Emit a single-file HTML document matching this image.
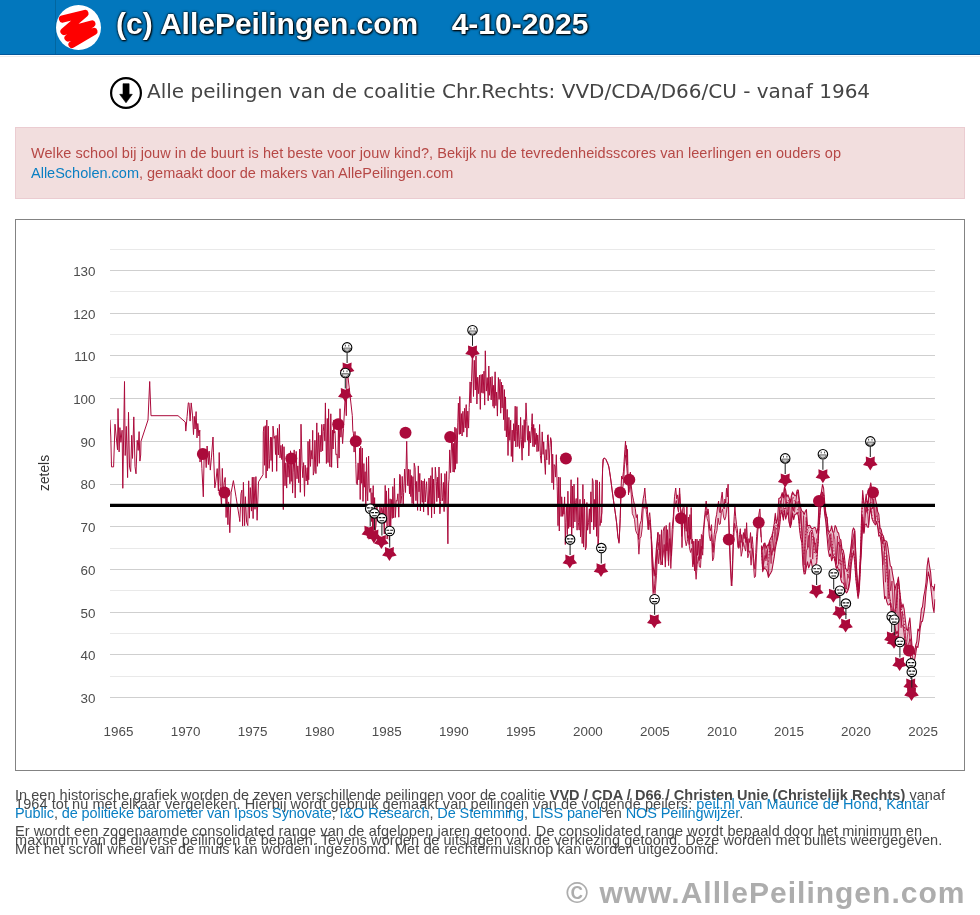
<!DOCTYPE html>
<html lang="nl">
<head>
<meta charset="utf-8">
<title>Alle peilingen van de coalitie Chr.Rechts: VVD/CDA/D66/CU - vanaf 1964</title>
<style>
*{box-sizing:border-box}
html,body{margin:0;padding:0;background:#fff}
body{width:980px;height:915px;overflow:hidden;position:relative;font-family:"Liberation Sans","DejaVu Sans",sans-serif;color:#555}
#hdr{position:absolute;left:0;top:0;width:980px;height:55px;background:#0277bd;border-bottom:1px solid #01579b}
#hl{position:absolute;left:0;top:56px;width:980px;height:1px;background:#ededed}
#hdr .vl{position:absolute;left:55px;top:0;width:1px;height:54px;background:#02669f}
#hdr svg{position:absolute;left:56px;top:5px}
#hdr .t{position:absolute;left:116px;top:6.8px;font:bold 30px/34px "Liberation Sans",sans-serif;color:#fff;white-space:pre;text-shadow:1px 1px 2px #000,0 0 2px #000,0 0 3px rgba(0,0,0,.7)}
#ttl{position:absolute;left:147.4px;top:73.8px;height:34px;white-space:nowrap;font:20px/34px "DejaVu Sans","Liberation Sans",sans-serif;color:#444}
#ttl svg{position:absolute;left:-38.4px;top:2.1px}
#alert{position:absolute;left:15px;top:127px;width:950px;height:72px;background:#f2dede;border:1px solid #ebccd1;padding:15px;font:14.5px/20px "Liberation Sans","DejaVu Sans",sans-serif;color:#b64846}
.ln{display:block;white-space:nowrap}
a{color:#0a7fc3;text-decoration:none}
#chart{position:absolute;left:15px;top:219px;width:950px;height:552px;border:1px solid #838383;background:#fff}
#chart svg{position:absolute;left:-1px;top:-1px}
#txt{position:absolute;left:15px;top:791px;width:950px;font:14.5px/9px "Liberation Sans","DejaVu Sans",sans-serif;color:#484848}
#txt p{margin:0 0 9px 0}
#wm{position:absolute;right:14.2px;top:874.7px;font:bold 30px/36px "Liberation Sans",sans-serif;color:#adadad;letter-spacing:1px;word-spacing:1px;white-space:nowrap}
#ttl,#alert,#txt,#hdr .t,#wm,#cs{will-change:transform}
</style>
</head>
<body>
<div id="hdr"><div class="vl"></div>
<svg width="46" height="46" viewBox="0 0 46 46"><circle cx="22.5" cy="22.5" r="22.5" fill="#fff"/><polyline points="6.5,14 29,8.5 8,26.5 36,19 12,33 38,26.5 16,39.5" fill="none" stroke="#fe0000" stroke-width="7.2" stroke-linecap="round" stroke-linejoin="round"/></svg>
<div class="t">(c) AllePeilingen.com    4-10-2025</div></div>
<div id="hl"></div>
<div id="ttl"><svg width="34" height="34" viewBox="0 0 34 34"><circle cx="17" cy="17" r="14.9" fill="#fff" stroke="#000" stroke-width="2.2"/><path d="M14 7.700h6.100v10.600h3.200L17 26.800 10.700 18.300H14z" fill="#000" stroke="#000" stroke-width="0.600" stroke-linejoin="round"/></svg>Alle peilingen van de coalitie Chr.Rechts: VVD/CDA/D66/CU - vanaf 1964</div>
<div id="alert"><span class="ln" style="letter-spacing:.067px">Welke school bij jouw in de buurt is het beste voor jouw kind?, Bekijk nu de tevredenheidsscores van leerlingen en ouders op</span><span class="ln"><a>AlleScholen.com</a>, gemaakt door de makers van AllePeilingen.com</span></div>
<div id="chart">

</div>
<div id="txt"><p><span class="ln" style="letter-spacing:.032px">In een historische grafiek worden de zeven verschillende peilingen voor de coalitie <b>VVD / CDA / D66 / Christen Unie (Christelijk Rechts)</b> vanaf</span>
<span class="ln" style="letter-spacing:.072px">1964 tot nu met elkaar vergeleken. Hierbij wordt gebruik gemaakt van peilingen van de volgende peilers: <a>peil.nl van Maurice de Hond</a>, <a>Kantar</a></span>
<span class="ln" style="letter-spacing:-.1px"><a>Public</a>, <a>de politieke barometer van Ipsos Synovate</a>, <a>I&amp;O Research</a>, <a>De Stemming</a>, <a>LISS panel</a> en <a>NOS Peilingwijzer</a>.</span></p>
<p><span class="ln" style="letter-spacing:.108px">Er wordt een zogenaamde consolidated range van de afgelopen jaren getoond. De consolidated range wordt bepaald door het minimum en</span>
<span class="ln" style="letter-spacing:.064px">maximum van de diverse peilingen te bepalen. Tevens worden de uitslagen van de verkiezing getoond. Deze worden met bullets weergegeven.</span>
<span class="ln" style="letter-spacing:.137px">Met het scroll wheel van de muis kan worden ingezoomd. Met de rechtermuisknop kan worden uitgezoomd.</span></p></div>
<div id="wm">© www.AlllePeilingen.com</div>
<svg id="cs" width="980" height="915" viewBox="0 0 980 915" style="position:absolute;left:0;top:0;font-family:'Liberation Sans',sans-serif">
<path d="M110 676.5H935M110 633.5H935M110 590.5H935M110 548.5H935M110 505.5H935M110 462.5H935M110 419.5H935M110 377.5H935M110 334.5H935M110 291.5H935M110 249.5H935" stroke="#e9e9e9" stroke-width="1" fill="none"/>
<path d="M110 697.5H935M110 654.5H935M110 612.5H935M110 569.5H935M110 526.5H935M110 484.5H935M110 441.5H935M110 398.5H935M110 355.5H935M110 313.5H935M110 270.5H935" stroke="#cfcfcf" stroke-width="1" fill="none"/>
<g font-size="13.4" fill="#4d4d4d" text-anchor="end">
<text x="95.5" y="702.9">30</text>
<text x="95.5" y="660.2">40</text>
<text x="95.5" y="617.5">50</text>
<text x="95.5" y="574.8">60</text>
<text x="95.5" y="532.1">70</text>
<text x="95.5" y="489.4">80</text>
<text x="95.5" y="446.7">90</text>
<text x="95.5" y="404.0">100</text>
<text x="95.5" y="361.3">110</text>
<text x="95.5" y="318.6">120</text>
<text x="95.5" y="275.9">130</text>
</g>
<g font-size="13.4" fill="#4d4d4d" text-anchor="middle">
<text x="118.5" y="735.7">1965</text>
<text x="185.6" y="735.7">1970</text>
<text x="252.6" y="735.7">1975</text>
<text x="319.6" y="735.7">1980</text>
<text x="386.7" y="735.7">1985</text>
<text x="453.8" y="735.7">1990</text>
<text x="520.8" y="735.7">1995</text>
<text x="587.9" y="735.7">2000</text>
<text x="654.9" y="735.7">2005</text>
<text x="722.0" y="735.7">2010</text>
<text x="789.0" y="735.7">2015</text>
<text x="856.0" y="735.7">2020</text>
<text x="923.1" y="735.7">2025</text>
</g>
<text transform="translate(48.7,473) rotate(-90)" font-size="13.8" fill="#333" text-anchor="middle">zetels</text>
<clipPath id="pc"><rect x="110" y="230" width="825.5" height="490"/></clipPath>
<g clip-path="url(#pc)" fill="none" stroke-linejoin="round">
<path d="M761.5 545.5L762.7 549.5L763.8 543.8L765.0 543.0L766.1 548.5L767.3 545.0L768.4 545.5L769.6 540.8L770.7 538.3L771.9 535.9L773.0 531.0L774.2 523.4L775.3 513.2L776.5 523.3L777.6 518.5L778.8 498.6L779.9 498.1L781.1 496.5L782.2 492.6L783.4 497.4L784.5 486.8L785.7 490.1L786.8 496.9L788.0 494.8L789.1 498.0L790.3 502.3L791.4 495.6L792.6 491.9L793.7 493.9L794.9 495.7L796.0 495.7L797.2 490.1L798.3 490.1L799.5 500.9L800.6 507.1L801.8 511.1L802.9 511.5L804.1 514.5L805.2 511.6L806.4 509.6L807.5 526.0L808.7 525.4L809.8 525.3L811.0 527.6L812.1 528.8L813.3 528.2L814.4 527.4L815.6 528.0L816.7 533.2L817.9 527.7L819.0 505.1L820.2 496.0L821.3 492.5L822.5 484.5L823.6 488.2L824.8 503.7L825.9 513.6L827.1 518.1L828.2 531.3L829.4 531.2L830.5 530.6L831.7 525.9L832.8 532.2L834.0 532.2L835.1 525.5L836.3 527.6L837.4 531.8L838.6 533.2L839.7 539.0L840.9 539.9L842.0 549.1L843.2 550.2L844.3 555.4L845.5 568.0L846.6 570.0L847.8 570.7L848.9 560.5L850.1 554.2L851.2 545.6L852.4 531.0L853.5 527.9L854.7 530.0L855.8 552.5L857.0 576.3L858.1 590.1L859.3 577.8L860.4 553.2L861.6 515.9L862.7 490.5L863.9 504.3L865.0 504.1L866.2 494.0L867.3 505.2L868.5 499.3L869.6 488.6L870.8 482.9L871.9 491.2L873.1 494.1L874.2 496.3L875.4 498.5L876.5 504.1L877.7 511.6L878.8 514.1L880.0 527.8L881.1 529.4L882.3 534.6L883.4 536.0L884.6 541.0L885.7 540.7L886.9 541.9L888.0 547.7L889.2 557.0L890.3 565.9L891.5 566.9L892.6 574.1L893.8 580.8L894.9 590.1L896.1 584.6L897.2 583.0L898.4 577.1L899.5 588.8L900.7 599.8L901.8 608.3L903.0 604.0L904.1 608.8L905.3 619.5L906.4 629.1L907.6 630.5L908.7 623.6L909.9 617.9L911.0 632.5L912.2 648.2L913.3 649.4L914.5 654.5L915.6 645.5L916.8 641.6L917.9 629.1L919.1 631.0L920.2 621.2L921.4 609.0L922.5 606.7L923.7 596.5L924.8 591.0L926.0 582.5L927.1 566.4L928.3 557.8L929.4 565.6L930.6 572.1L931.7 586.3L932.9 586.4L934.0 590.7L934.9 583.9L934.9 599.2L934.0 612.5L932.9 606.8L931.7 595.2L930.6 585.8L929.4 576.7L928.3 571.9L927.1 583.1L926.0 591.1L924.8 607.0L923.7 614.4L922.5 621.2L921.4 621.8L920.2 628.1L919.1 640.0L917.9 647.4L916.8 646.4L915.6 654.3L914.5 660.4L913.3 664.7L912.2 663.2L911.0 660.5L909.9 653.2L908.7 650.9L907.6 649.0L906.4 651.0L905.3 649.1L904.1 640.2L903.0 640.3L901.8 644.7L900.7 642.7L899.5 639.4L898.4 636.2L897.2 631.1L896.1 634.3L894.9 625.6L893.8 622.1L892.6 617.1L891.5 614.6L890.3 603.0L889.2 604.7L888.0 604.9L886.9 602.1L885.7 596.6L884.6 598.8L883.4 581.4L882.3 558.0L881.1 542.3L880.0 535.1L878.8 536.2L877.7 526.6L876.5 521.8L875.4 524.9L874.2 523.2L873.1 521.4L871.9 518.4L870.8 507.6L869.6 514.9L868.5 527.2L867.3 527.0L866.2 523.9L865.0 524.6L863.9 533.4L862.7 523.7L861.6 547.1L860.4 567.6L859.3 590.9L858.1 598.4L857.0 589.4L855.8 578.2L854.7 562.3L853.5 551.6L852.4 556.8L851.2 565.0L850.1 579.9L848.9 587.5L847.8 590.7L846.6 592.9L845.5 591.6L844.3 585.6L843.2 582.9L842.0 582.8L840.9 579.7L839.7 569.3L838.6 570.3L837.4 566.5L836.3 568.5L835.1 562.0L834.0 557.3L832.8 557.2L831.7 560.8L830.5 554.1L829.4 556.4L828.2 549.9L827.1 537.3L825.9 522.1L824.8 515.4L823.6 502.8L822.5 501.3L821.3 504.5L820.2 511.5L819.0 526.2L817.9 545.4L816.7 563.0L815.6 564.1L814.4 571.6L813.3 569.4L812.1 566.1L811.0 559.4L809.8 565.0L808.7 567.9L807.5 561.8L806.4 566.8L805.2 573.8L804.1 573.9L802.9 565.1L801.8 542.5L800.6 537.7L799.5 528.9L798.3 515.9L797.2 512.4L796.0 514.2L794.9 514.3L793.7 519.6L792.6 512.8L791.4 523.6L790.3 527.5L789.1 522.3L788.0 512.4L786.8 514.8L785.7 519.1L784.5 509.9L783.4 520.1L782.2 513.4L781.1 511.3L779.9 523.7L778.8 532.0L777.6 538.3L776.5 542.7L775.3 548.9L774.2 557.2L773.0 564.2L771.9 570.7L770.7 573.1L769.6 574.7L768.4 577.4L767.3 572.0L766.1 569.4L765.0 568.8L763.8 567.4L762.7 571.7L761.5 546.8Z" fill="#ab0a3b" fill-opacity="0.25" stroke="none"/>
<path d="M601.5 512.7L602.6 468.4L603.7 458.6L604.8 458.3L605.9 459.5L607.0 461.8L608.1 464.5L609.2 469.0L610.3 476.2L611.4 484.3L612.5 493.2L613.6 501.1L614.7 508.9L615.8 516.6L616.9 525.5L618.0 537.4L619.1 541.5L620.2 518.1L621.3 481.8L622.4 478.6L623.5 471.4L624.6 454.1L625.7 446.6L626.8 456.0L627.9 472.6L629.0 483.8L630.1 474.0L631.2 484.9L632.3 494.2L633.4 500.0L634.5 505.0L635.6 511.1L636.7 516.5L637.8 523.5L638.9 536.6L640.0 524.1L641.1 521.0L642.2 509.0L643.3 498.4L644.4 491.3L645.5 497.9L646.6 508.5L647.7 516.0L648.8 518.5L649.9 515.1L651.0 531.5L652.1 556.4L653.2 586.9L654.3 589.7L655.4 576.0L656.5 558.0L657.6 538.3L658.7 546.1L659.8 535.2L660.9 550.0L662.0 550.7L663.1 535.1L664.2 527.2L665.3 552.6L666.4 532.3L667.5 530.0L668.6 552.4L669.7 522.8L670.8 551.6L671.9 537.7L673.0 520.0L674.1 503.5L675.2 491.5L676.3 494.8L677.4 495.9L678.5 503.5L679.6 488.2L680.7 509.1L681.8 530.9L682.9 508.3L684.0 507.3L685.1 521.3L686.2 530.7L687.3 530.1L688.4 517.6L689.5 531.8L690.6 533.3L691.7 532.2L692.8 548.8L693.9 544.1L695.0 552.8L696.1 568.7L697.2 546.0L698.3 542.4L699.4 557.7L700.5 550.6L701.6 534.8L702.7 548.3L703.8 525.3L704.9 514.2L706.0 503.2L707.1 513.4L708.2 510.5L709.3 524.1L710.4 530.4L711.5 524.9L712.6 546.1L713.7 541.6L714.8 529.2L715.9 517.8L717.0 512.0L718.1 504.1L719.2 508.4L720.3 511.3L721.4 497.4L722.5 495.9L723.6 505.8L724.7 501.7L725.8 501.0L726.9 492.9L728.0 485.1L729.1 522.5L730.2 554.3L731.3 577.7L732.4 566.3L733.5 530.0L734.6 511.3L735.7 516.4L736.8 526.1L737.9 537.6L739.0 542.3L740.1 529.9L741.2 541.0L742.3 541.7L743.4 532.7L744.5 534.7L745.6 539.6L746.7 525.7L747.8 546.6L748.9 538.8L750.0 538.8L751.1 544.9L752.2 537.9L753.3 552.4L754.4 566.0L755.5 558.9L756.6 536.5L757.7 523.8L758.8 515.5L759.9 509.1L761.0 531.0L761.0 537.3L759.9 521.7L758.8 521.5L757.7 533.1L756.6 553.3L755.5 576.6L754.4 577.6L753.3 562.0L752.2 547.9L751.1 565.2L750.0 550.7L748.9 553.4L747.8 557.8L746.7 537.4L745.6 551.1L744.5 547.4L743.4 542.5L742.3 551.1L741.2 556.3L740.1 540.6L739.0 548.4L737.9 547.6L736.8 533.2L735.7 528.5L734.6 523.3L733.5 542.3L732.4 575.8L731.3 585.6L730.2 564.5L729.1 538.2L728.0 502.7L726.9 508.2L725.8 516.9L724.7 520.1L723.6 517.0L722.5 509.1L721.4 512.6L720.3 523.9L719.2 524.5L718.1 518.1L717.0 530.4L715.9 534.1L714.8 542.7L713.7 557.9L712.6 560.9L711.5 534.4L710.4 541.0L709.3 536.1L708.2 522.1L707.1 518.6L706.0 511.1L704.9 518.0L703.8 530.0L702.7 555.2L701.6 546.2L700.5 567.5L699.4 566.9L698.3 556.5L697.2 564.8L696.1 579.3L695.0 564.8L693.9 556.3L692.8 566.9L691.7 548.3L690.6 552.5L689.5 548.2L688.4 535.5L687.3 541.5L686.2 545.8L685.1 539.1L684.0 522.1L682.9 515.7L681.8 536.5L680.7 514.7L679.6 493.9L678.5 512.2L677.4 507.0L676.3 500.5L675.2 505.5L674.1 509.4L673.0 529.6L671.9 549.1L670.8 568.5L669.7 538.6L668.6 565.6L667.5 542.6L666.4 543.1L665.3 567.1L664.2 544.5L663.1 555.1L662.0 561.1L660.9 565.0L659.8 549.3L658.7 563.8L657.6 549.6L656.5 575.2L655.4 590.3L654.3 602.9L653.2 597.7L652.1 567.4L651.0 533.7L649.9 519.9L648.8 529.8L647.7 523.2L646.6 514.2L645.5 505.5L644.4 508.3L643.3 506.4L642.2 527.9L641.1 536.7L640.0 538.4L638.9 554.2L637.8 535.1L636.7 533.1L635.6 530.3L634.5 519.4L633.4 516.1L632.3 513.7L631.2 494.1L630.1 482.5L629.0 492.5L627.9 481.8L626.8 468.1L625.7 455.1L624.6 464.4L623.5 483.5L622.4 489.4L621.3 487.6L620.2 518.1L619.1 541.5L618.0 537.4L616.9 525.5L615.8 516.6L614.7 508.9L613.6 501.1L612.5 493.2L611.4 484.3L610.3 476.2L609.2 469.0L608.1 464.5L607.0 461.8L605.9 459.5L604.8 458.3L603.7 458.6L602.6 468.4L601.5 522.9Z" fill="#ab0a3b" fill-opacity="0.25" stroke="none"/>
<path d="M651.3 536.4L651.9 548.2L652.7 575.9L653.4 591.7L654.0 592.7L654.8 583.8L656.0 568.0L657.0 548.2L658.0 532.4L658.0 532.4L656.4 548.2L655.2 566.0L654.2 575.9L653.4 568.0L652.5 556.2L651.3 536.4Z" fill="#ab0a3b" fill-opacity="0.25" stroke="none"/>
<path d="M110.0 420.0L110.8 437.0L111.5 466.9L113.6 466.9L115.0 424.2L117.5 449.8L118.0 408.5L119.1 451.9L119.9 427.6L120.9 442.3L122.1 430.2L122.8 488.3L124.5 381.5L125.2 455.5L126.3 426.4L127.6 477.6L128.5 412.3L129.5 467.1L130.7 471.6L131.7 435.3L132.5 458.4L133.8 416.9L135.0 466.6L136.0 473.8L137.2 440.3L138.2 450.4L139.1 431.6L139.9 461.1L140.7 455.0L141.0 441.3L148.0 420.0L149.7 381.5L151.0 415.7L178.0 415.7L185.3 422.1L185.8 431.1L187.1 416.4L188.3 402.9L189.0 402.9L190.1 421.1L191.2 402.9L192.5 415.1L193.5 434.6L194.3 416.4L195.1 429.0L196.1 411.6L197.0 437.9L197.8 423.5L198.9 436.0L199.8 430.1L200.0 462.0L201.0 448.8L201.9 468.4L203.3 496.8L204.1 458.1L205.3 451.2L206.2 467.6L207.1 446.0L208.4 464.6L209.2 451.1L210.3 470.1L211.4 457.9L213.0 437.0L213.5 452.9L214.8 487.9L215.9 481.0L217.2 468.6L218.4 491.0L219.2 452.5L220.3 486.6L221.5 506.7L222.3 468.4L223.1 494.2L224.2 482.8L225.2 477.5L226.1 517.5L226.9 490.6L227.9 524.7L228.6 501.9L229.8 532.7L231.1 492.7L233.4 480.6L236.0 496.8L239.4 518.2L239.8 521.6L241.0 493.5L241.9 490.1L242.6 526.1L243.4 482.3L244.6 525.7L245.4 496.7L246.6 522.2L247.8 525.6L248.7 480.8L249.4 518.2L250.3 487.6L251.5 511.1L252.3 477.2L253.1 518.6L253.9 477.1L255.0 509.3L255.9 476.6L257.1 520.3L258.5 481.9L263.0 474.6L263.3 431.8L264.0 426.6L264.6 465.3L265.3 425.7L266.1 478.1L266.8 420.0L267.4 470.8L268.3 426.2L269.1 468.4L269.8 458.2L270.5 437.0L271.1 460.5L271.7 437.3L272.4 471.6L273.0 426.1L274.1 438.4L274.8 436.3L275.5 454.5L276.1 435.4L276.7 471.3L277.5 428.4L278.4 455.0L279.4 424.4L280.0 457.9L280.9 445.4L281.7 459.5L282.5 444.4L283.3 509.6L284.0 446.7L285.0 485.7L285.8 462.8L286.7 488.1L287.3 460.2L288.0 477.2L289.0 455.6L289.9 483.8L290.5 450.8L291.2 481.4L291.9 460.9L292.6 493.1L293.2 472.1L294.2 449.9L295.2 497.9L296.2 451.4L297.0 478.8L297.8 465.9L298.8 482.8L299.6 449.2L300.3 492.3L301.0 424.2L302.1 465.3L302.8 477.7L303.6 462.6L304.5 496.3L305.2 465.2L306.2 481.0L307.2 467.6L307.8 484.9L308.0 441.4L308.7 479.8L309.7 439.3L310.5 466.4L311.1 450.4L312.1 459.1L312.7 430.3L313.3 475.1L314.2 471.3L314.9 440.3L315.9 473.6L316.8 422.9L317.5 466.3L318.4 432.7L319.3 463.3L320.1 435.2L321.0 451.9L321.8 424.4L322.6 450.8L323.2 431.4L324.0 424.0L324.8 440.9L325.4 402.9L326.4 463.5L327.3 418.5L328.0 462.5L328.6 408.9L329.4 463.6L330.0 466.8L330.8 413.8L331.6 467.3L332.5 430.0L333.1 449.0L333.8 420.1L334.4 433.1L335.0 431.3L335.9 454.8L336.9 454.0L337.7 468.0L338.4 427.3L339.1 458.1L340.0 408.7L340.9 437.2L341.6 423.0L342.6 443.6L343.5 428.5L345.3 394.3L346.3 415.7L347.1 368.7L352.3 415.7L352.8 430.4L353.4 433.2L354.1 452.1L355.0 431.5L355.8 464.2L356.4 483.4L357.3 484.8L358.1 463.1L358.9 479.9L359.6 448.1L360.2 499.5L360.7 446.3L361.7 483.4L362.3 448.1L363.0 501.4L363.9 463.5L364.4 487.2L365.1 471.7L365.8 504.9L366.5 457.5L367.1 491.1L367.7 500.8L368.6 456.1L369.2 488.1L369.9 492.4L370.8 488.2L371.6 521.5L372.0 492.7L372.5 528.0L373.2 485.6L373.8 531.7L374.6 497.6L375.3 530.6L376.0 525.4L376.9 505.1L377.7 520.3L378.5 519.8L379.2 521.1L380.0 507.0L380.7 519.0L381.5 507.6L382.4 513.4L383.3 506.0L384.3 534.0L385.2 485.4L385.9 522.5L386.5 490.9L387.1 539.1L387.7 532.8L388.6 488.2L389.4 540.3L390.1 498.8L390.7 529.2L391.5 499.5L392.3 518.4L392.8 486.6L393.7 517.9L394.4 478.3L395.4 517.4L396.2 500.5L397.0 501.2L397.9 493.8L398.8 517.2L399.7 474.3L400.3 475.1L400.8 503.6L401.7 495.6L402.2 476.4L403.2 504.3L403.7 492.4L404.6 469.1L405.5 492.5L406.7 441.3L407.6 484.0L408.0 485.8L408.6 469.1L409.5 494.0L410.1 469.6L410.8 496.6L411.4 475.5L412.1 503.5L412.9 476.6L413.6 504.4L414.2 463.2L415.1 467.7L415.9 500.7L416.7 481.4L417.6 510.4L418.3 465.9L419.0 491.8L419.8 473.4L420.4 511.0L421.4 480.4L422.3 502.3L423.0 481.0L423.6 511.9L424.5 478.8L425.2 502.0L426.0 489.4L426.6 481.7L427.5 503.9L428.2 515.2L429.0 478.0L430.0 506.0L430.8 475.7L431.6 517.8L432.2 467.5L432.8 504.0L433.6 479.0L434.4 513.9L435.3 467.2L436.3 481.3L436.8 501.6L437.7 477.2L438.3 497.9L439.0 467.0L439.9 513.8L440.6 501.6L441.3 473.4L442.2 500.9L442.8 497.7L443.4 482.4L444.1 511.6L444.9 473.6L445.8 503.8L446.6 471.5L447.9 543.8L448.6 484.0L449.0 479.3L449.7 449.9L450.6 472.6L451.6 441.4L452.2 438.2L453.1 472.0L453.7 443.3L454.3 472.2L454.9 427.2L455.5 469.2L456.1 428.4L456.9 463.6L457.8 422.9L458.4 403.1L459.3 434.4L459.8 396.5L460.6 434.0L461.4 413.6L462.1 436.0L462.9 411.3L463.7 432.2L464.6 408.3L465.3 427.8L466.2 404.6L466.9 437.1L467.8 411.1L468.6 428.1L469.2 407.7L470.1 381.9L470.9 403.0L471.5 381.5L472.5 351.6L473.5 396.5L474.3 360.3L475.3 390.0L476.0 355.9L476.9 404.0L477.7 377.2L478.6 393.7L479.5 375.0L480.3 409.4L481.1 374.6L481.8 392.7L482.5 374.2L483.1 393.3L484.0 371.2L484.7 405.1L485.3 350.8L486.3 391.1L487.2 377.6L488.2 400.8L488.8 366.0L489.4 395.3L490.3 377.0L491.2 399.9L492.1 376.5L493.0 406.3L493.6 385.3L494.2 408.2L495.1 371.8L495.9 405.7L496.6 392.1L497.4 416.1L498.4 377.5L499.1 399.4L500.0 379.3L500.7 413.2L501.4 382.2L502.1 407.9L502.7 385.1L503.6 419.7L504.4 389.6L505.0 430.6L505.5 396.9L506.4 437.0L507.2 409.4L508.0 455.5L508.9 417.4L509.8 440.4L510.7 420.2L511.3 456.4L512.2 430.1L512.7 461.8L513.6 423.7L514.4 440.9L515.2 406.2L515.8 447.0L516.3 431.9L516.9 406.6L517.8 446.6L518.6 425.0L519.5 448.4L520.1 439.5L520.6 417.4L521.3 439.3L522.1 460.2L522.8 425.4L523.5 448.1L524.2 419.7L525.0 442.2L526.0 402.9L526.8 421.5L527.5 440.3L528.3 425.7L528.8 455.9L529.7 431.4L530.6 442.9L531.6 426.3L532.2 413.7L532.9 446.6L533.7 424.4L534.3 446.9L534.9 428.3L535.7 444.5L536.4 433.3L537.0 451.7L537.7 434.9L538.7 451.3L539.6 424.5L540.4 455.7L541.3 463.1L542.2 431.9L543.1 454.4L543.7 441.8L544.5 458.9L545.4 474.4L546.0 449.6L546.8 459.9L547.6 435.1L548.2 434.7L549.1 464.6L550.0 447.4L550.6 437.6L551.4 440.8L552.0 482.9L552.7 454.2L553.6 489.5L554.1 464.5L555.0 466.0L555.6 477.1L556.3 454.7L557.2 486.2L558.0 525.7L558.7 477.0L559.3 531.0L560.2 477.4L561.1 516.5L561.7 496.8L562.7 516.4L563.3 506.7L563.9 514.3L564.6 496.9L565.3 544.5L565.9 522.5L566.8 504.5L567.3 534.7L567.9 491.2L568.6 528.4L569.3 505.5L570.0 527.0L570.5 503.8L571.1 479.7L571.7 543.9L572.4 486.0L573.2 528.1L574.0 484.1L574.9 521.9L575.6 502.6L576.2 498.5L577.1 530.2L577.7 477.6L578.4 522.4L579.2 530.1L580.0 499.3L580.5 537.0L581.3 506.2L582.2 543.5L582.9 484.5L583.6 547.1L584.5 499.1L585.4 549.9L586.3 546.9L586.9 502.5L587.6 530.2L588.5 522.7L589.4 508.8L590.0 533.8L590.9 491.8L591.6 522.1L592.4 478.6L593.1 481.3L593.7 529.7L594.3 499.4L595.1 527.1L595.9 479.9L596.6 536.3L597.2 480.3L598.0 550.2L598.6 538.2L599.5 481.9L600.0 525.7L601.0 518.2L601.9 512.7L602.3 479.1L602.9 459.3L604.4 457.9L605.8 459.3L607.2 462.3L608.8 466.2L610.7 479.1L612.7 494.9L614.7 508.7L616.6 522.5L617.8 536.4L619.0 543.3L619.8 528.5L620.2 518.6L621.0 488.9L621.6 476.1L622.5 479.1L623.5 471.2L624.1 461.3L624.9 449.4L625.5 441.1L626.1 457.3L626.5 445.5L627.1 465.2L627.5 449.4L628.1 481.0L628.5 494.9L629.2 479.1L630.4 472.1L631.0 483.0L631.4 487.0L632.4 494.9L633.6 500.8L635.3 508.7L636.3 517.6L637.3 514.6L638.7 539.4L639.9 524.5L641.2 520.6L642.2 508.7L643.2 498.8L644.0 494.9L644.8 488.0L645.6 498.8L646.6 508.7L647.3 504.8L648.1 529.5L648.9 516.6L649.7 512.7L650.5 522.5L651.3 536.4L651.3 536.4L651.9 548.2L652.7 575.9L653.4 591.7L654.0 592.7L654.8 583.8L656.0 568.0L657.0 548.2L658.0 532.4L658.2 541.6L659.1 549.9L659.8 534.5L660.6 559.5L661.5 529.8L662.4 565.0L663.2 531.1L664.0 527.5L664.7 526.5L665.5 563.1L666.2 525.4L666.9 550.9L667.5 529.7L668.4 560.8L669.3 523.8L669.8 522.6L670.7 551.0L671.4 555.9L672.1 529.5L673.3 516.6L674.5 496.8L675.7 488.0L676.7 498.8L677.6 494.9L678.6 504.8L679.6 488.0L680.6 508.7L681.6 512.7L682.0 547.6L682.7 508.9L683.5 505.9L684.1 507.6L684.8 528.6L685.3 516.9L686.2 531.3L686.9 506.5L687.5 538.3L688.4 517.1L689.2 544.6L689.9 514.6L690.5 539.3L691.2 507.5L691.9 543.7L692.5 539.0L693.3 564.3L693.8 541.2L694.5 570.8L695.4 539.0L696.1 570.1L697.0 539.1L697.5 555.4L698.4 540.9L699.3 560.5L700.0 539.0L700.9 558.8L701.4 534.5L702.1 535.6L702.7 549.2L702.9 534.6L703.9 524.7L704.8 514.8L706.2 501.0L707.2 514.8L708.0 508.9L708.8 514.8L709.6 528.7L710.3 530.7L711.5 524.7L712.3 542.5L713.1 552.4L714.1 534.6L714.9 528.7L715.7 518.8L716.6 514.8L717.6 506.9L718.6 501.0L719.4 510.9L720.2 512.9L721.2 499.0L722.2 492.1L723.1 503.0L724.1 508.9L724.9 499.0L725.7 503.0L726.5 488.2L727.3 497.0L728.1 484.2L728.8 514.8L729.6 538.6L730.4 560.3L731.2 576.1L731.8 586.0L732.6 560.3L733.4 532.6L734.2 516.8L734.9 506.9L735.7 516.8L736.5 524.7L737.3 528.7L738.1 540.5L738.7 547.5L739.5 534.6L740.3 528.7L741.0 542.5L741.8 534.6L742.6 546.5L743.4 532.6L744.2 538.6L745.0 528.7L745.8 542.5L746.6 522.7L747.3 538.6L748.1 552.4L748.9 538.6L749.7 542.5L750.5 532.6L751.3 548.4L752.1 536.6L752.9 544.5L753.6 558.3L754.4 566.2L755.0 569.2L755.8 552.4L756.6 536.6L757.6 524.7L758.4 518.8L759.1 512.9L759.9 508.9L760.7 524.7L761.5 542.5" stroke="#ab0a3b" stroke-width="1.0"/>
<path d="M601.5 522.9L602.6 468.4L603.7 458.6L604.8 458.3L605.9 459.5L607.0 461.8L608.1 464.5L609.2 469.0L610.3 476.2L611.4 484.3L612.5 493.2L613.6 501.1L614.7 508.9L615.8 516.6L616.9 525.5L618.0 537.4L619.1 541.5L620.2 518.1L621.3 487.6L622.4 489.4L623.5 483.5L624.6 464.4L625.7 455.1L626.8 468.1L627.9 481.8L629.0 492.5L630.1 482.5L631.2 494.1L632.3 513.7L633.4 516.1L634.5 519.4L635.6 530.3L636.7 533.1L637.8 535.1L638.9 554.2L640.0 538.4L641.1 536.7L642.2 527.9L643.3 506.4L644.4 508.3L645.5 505.5L646.6 514.2L647.7 523.2L648.8 529.8L649.9 519.9L651.0 533.7L652.1 567.4L653.2 597.7L654.3 602.9L655.4 590.3L656.5 575.2L657.6 549.6L658.7 563.8L659.8 549.3L660.9 565.0L662.0 561.1L663.1 555.1L664.2 544.5L665.3 567.1L666.4 543.1L667.5 542.6L668.6 565.6L669.7 538.6L670.8 568.5L671.9 549.1L673.0 529.6L674.1 509.4L675.2 505.5L676.3 500.5L677.4 507.0L678.5 512.2L679.6 493.9L680.7 514.7L681.8 536.5L682.9 515.7L684.0 522.1L685.1 539.1L686.2 545.8L687.3 541.5L688.4 535.5L689.5 548.2L690.6 552.5L691.7 548.3L692.8 566.9L693.9 556.3L695.0 564.8L696.1 579.3L697.2 564.8L698.3 556.5L699.4 566.9L700.5 567.5L701.6 546.2L702.7 555.2L703.8 530.0L704.9 518.0L706.0 511.1L707.1 518.6L708.2 522.1L709.3 536.1L710.4 541.0L711.5 534.4L712.6 560.9L713.7 557.9L714.8 542.7L715.9 534.1L717.0 530.4L718.1 518.1L719.2 524.5L720.3 523.9L721.4 512.6L722.5 509.1L723.6 517.0L724.7 520.1L725.8 516.9L726.9 508.2L728.0 502.7L729.1 538.2L730.2 564.5L731.3 585.6L732.4 575.8L733.5 542.3L734.6 523.3L735.7 528.5L736.8 533.2L737.9 547.6L739.0 548.4L740.1 540.6L741.2 556.3L742.3 551.1L743.4 542.5L744.5 547.4L745.6 551.1L746.7 537.4L747.8 557.8L748.9 553.4L750.0 550.7L751.1 565.2L752.2 547.9L753.3 562.0L754.4 577.6L755.5 576.6L756.6 553.3L757.7 533.1L758.8 521.5L759.9 521.7L761.0 537.3" stroke="#ab0a3b" stroke-width="0.9"/>
<path d="M651.3 536.4L652.5 556.2L653.4 568.0L654.2 575.9L655.2 566.0L656.4 548.2L658.0 532.4" stroke="#ab0a3b" stroke-width="1.1"/>
<path d="M761.5 545.5L762.7 549.5L763.8 543.8L765.0 543.0L766.1 548.5L767.3 545.0L768.4 545.5L769.6 540.8L770.7 538.3L771.9 535.9L773.0 531.0L774.2 523.4L775.3 513.2L776.5 523.3L777.6 518.5L778.8 498.6L779.9 498.1L781.1 496.5L782.2 492.6L783.4 497.4L784.5 486.8L785.7 490.1L786.8 496.9L788.0 494.8L789.1 498.0L790.3 502.3L791.4 495.6L792.6 491.9L793.7 493.9L794.9 495.7L796.0 495.7L797.2 490.1L798.3 490.1L799.5 500.9L800.6 507.1L801.8 511.1L802.9 511.5L804.1 514.5L805.2 511.6L806.4 509.6L807.5 526.0L808.7 525.4L809.8 525.3L811.0 527.6L812.1 528.8L813.3 528.2L814.4 527.4L815.6 528.0L816.7 533.2L817.9 527.7L819.0 505.1L820.2 496.0L821.3 492.5L822.5 484.5L823.6 488.2L824.8 503.7L825.9 513.6L827.1 518.1L828.2 531.3L829.4 531.2L830.5 530.6L831.7 525.9L832.8 532.2L834.0 532.2L835.1 525.5L836.3 527.6L837.4 531.8L838.6 533.2L839.7 539.0L840.9 539.9L842.0 549.1L843.2 550.2L844.3 555.4L845.5 568.0L846.6 570.0L847.8 570.7L848.9 560.5L850.1 554.2L851.2 545.6L852.4 531.0L853.5 527.9L854.7 530.0L855.8 552.5L857.0 576.3L858.1 590.1L859.3 577.8L860.4 553.2L861.6 515.9L862.7 490.5L863.9 504.3L865.0 504.1L866.2 494.0L867.3 505.2L868.5 499.3L869.6 488.6L870.8 482.9L871.9 491.2L873.1 494.1L874.2 496.3L875.4 498.5L876.5 504.1L877.7 511.6L878.8 514.1L880.0 527.8L881.1 529.4L882.3 534.6L883.4 536.0L884.6 541.0L885.7 540.7L886.9 541.9L888.0 547.7L889.2 557.0L890.3 565.9L891.5 566.9L892.6 574.1L893.8 580.8L894.9 590.1L896.1 584.6L897.2 583.0L898.4 577.1L899.5 588.8L900.7 599.8L901.8 608.3L903.0 604.0L904.1 608.8L905.3 619.5L906.4 629.1L907.6 630.5L908.7 623.6L909.9 617.9L911.0 632.5L912.2 648.2L913.3 649.4L914.5 654.5L915.6 645.5L916.8 641.6L917.9 629.1L919.1 631.0L920.2 621.2L921.4 609.0L922.5 606.7L923.7 596.5L924.8 591.0L926.0 582.5L927.1 566.4L928.3 557.8L929.4 565.6L930.6 572.1L931.7 586.3L932.9 586.4L934.0 590.7L934.9 583.9" stroke="#ab0a3b" stroke-width="1.05"/>
<path d="M761.5 546.8L762.7 571.7L763.8 567.4L765.0 568.8L766.1 569.4L767.3 572.0L768.4 577.4L769.6 574.7L770.7 573.1L771.9 570.7L773.0 564.2L774.2 557.2L775.3 548.9L776.5 542.7L777.6 538.3L778.8 532.0L779.9 523.7L781.1 511.3L782.2 513.4L783.4 520.1L784.5 509.9L785.7 519.1L786.8 514.8L788.0 512.4L789.1 522.3L790.3 527.5L791.4 523.6L792.6 512.8L793.7 519.6L794.9 514.3L796.0 514.2L797.2 512.4L798.3 515.9L799.5 528.9L800.6 537.7L801.8 542.5L802.9 565.1L804.1 573.9L805.2 573.8L806.4 566.8L807.5 561.8L808.7 567.9L809.8 565.0L811.0 559.4L812.1 566.1L813.3 569.4L814.4 571.6L815.6 564.1L816.7 563.0L817.9 545.4L819.0 526.2L820.2 511.5L821.3 504.5L822.5 501.3L823.6 502.8L824.8 515.4L825.9 522.1L827.1 537.3L828.2 549.9L829.4 556.4L830.5 554.1L831.7 560.8L832.8 557.2L834.0 557.3L835.1 562.0L836.3 568.5L837.4 566.5L838.6 570.3L839.7 569.3L840.9 579.7L842.0 582.8L843.2 582.9L844.3 585.6L845.5 591.6L846.6 592.9L847.8 590.7L848.9 587.5L850.1 579.9L851.2 565.0L852.4 556.8L853.5 551.6L854.7 562.3L855.8 578.2L857.0 589.4L858.1 598.4L859.3 590.9L860.4 567.6L861.6 547.1L862.7 523.7L863.9 533.4L865.0 524.6L866.2 523.9L867.3 527.0L868.5 527.2L869.6 514.9L870.8 507.6L871.9 518.4L873.1 521.4L874.2 523.2L875.4 524.9L876.5 521.8L877.7 526.6L878.8 536.2L880.0 535.1L881.1 542.3L882.3 558.0L883.4 581.4L884.6 598.8L885.7 596.6L886.9 602.1L888.0 604.9L889.2 604.7L890.3 603.0L891.5 614.6L892.6 617.1L893.8 622.1L894.9 625.6L896.1 634.3L897.2 631.1L898.4 636.2L899.5 639.4L900.7 642.7L901.8 644.7L903.0 640.3L904.1 640.2L905.3 649.1L906.4 651.0L907.6 649.0L908.7 650.9L909.9 653.2L911.0 660.5L912.2 663.2L913.3 664.7L914.5 660.4L915.6 654.3L916.8 646.4L917.9 647.4L919.1 640.0L920.2 628.1L921.4 621.8L922.5 621.2L923.7 614.4L924.8 607.0L926.0 591.1L927.1 583.1L928.3 571.9L929.4 576.7L930.6 585.8L931.7 595.2L932.9 606.8L934.0 612.5L934.9 599.2" stroke="#ab0a3b" stroke-width="1.05"/>
<path d="M762.0 549.4L763.3 565.5L764.6 543.6L765.9 560.9L767.2 549.5L768.5 576.5L769.8 541.8L771.1 563.6L772.4 534.1L773.7 549.2L775.0 526.9L776.3 543.5L777.6 523.8L778.9 526.8L780.2 500.5L781.5 506.0L782.8 516.3L784.1 494.5L785.4 500.5L786.7 514.5L788.0 508.3L789.3 501.4L790.6 523.8L791.9 497.5L793.2 509.6L794.5 512.3L795.8 501.2L797.1 503.9L798.4 501.0L799.7 524.4L801.0 511.8L802.3 542.2L803.6 515.5L804.9 565.0L806.2 517.2L807.5 547.5L808.8 535.3L810.1 557.3L811.4 532.1L812.7 559.1L814.0 537.3L815.3 552.1L816.6 539.1L817.9 537.3L819.2 503.9L820.5 505.7L821.8 491.5L823.1 500.2L824.4 501.6L825.7 517.1L827.0 533.5L828.3 538.9L829.6 550.3L830.9 533.5L832.2 558.2L833.5 533.2L834.8 539.4L836.1 565.4L837.4 536.0L838.7 564.5L840.0 540.2L841.3 577.7L842.6 552.8L843.9 579.1L845.2 588.9L846.5 586.9L847.8 574.2L849.1 578.4L850.4 553.6L851.7 541.5L853.0 549.2L854.3 534.4L855.6 571.8L856.9 576.0L858.2 595.9L859.5 574.5L860.8 557.2L862.1 514.5L863.4 528.9L864.7 506.0L866.0 512.5L867.3 508.4L868.6 524.9L869.9 510.5L871.2 486.9L872.5 508.8L873.8 499.0L875.1 522.7L876.4 504.4L877.7 521.7L879.0 521.1L880.3 533.9L881.6 534.5L882.9 564.9L884.2 551.3L885.5 582.2L886.8 554.9L888.1 599.0L889.4 569.5L890.7 590.9L892.0 581.0L893.3 612.4L894.6 588.8L895.9 613.4L897.2 583.4L898.5 636.5L899.8 598.5L901.1 627.8L902.4 611.4L903.7 627.6L905.0 628.1L906.3 647.5L907.6 634.6L908.9 627.1L910.2 643.3L911.5 645.8L912.8 659.7" stroke="#ab0a3b" stroke-width="0.8" stroke-opacity="0.9"/>
<path d="M761.5 546.6L762.7 570.3L763.8 562.9L765.0 555.5L766.1 558.5L767.3 550.9L768.4 546.4L769.6 541.8L770.7 550.2L771.9 555.3L773.0 548.1L774.2 551.6L775.3 543.6L776.5 541.0L777.6 536.1L778.8 518.9L779.9 508.8L781.1 502.5L782.2 494.6L783.4 498.1L784.5 487.5L785.7 496.0L786.8 504.7L788.0 505.3L789.1 521.3L790.3 526.7L791.4 520.5L792.6 506.1L793.7 510.6L794.9 504.5L796.0 500.1L797.2 491.6L798.3 494.9L799.5 503.9L800.6 513.5L801.8 531.2L802.9 545.2L804.1 571.6L805.2 570.9L806.4 550.5L807.5 548.8L808.7 545.9L809.8 532.0L811.0 530.9L812.1 529.9L813.3 535.6L814.4 544.4L815.6 542.9L816.7 553.1L817.9 543.3L819.0 525.6L820.2 508.2L821.3 504.1L822.5 492.0L823.6 494.8L824.8 506.7L825.9 513.8L827.1 518.6L828.2 532.5L829.4 535.1L830.5 546.3L831.7 548.3L832.8 554.1L834.0 556.6L835.1 557.2L836.3 563.6L837.4 546.1L838.6 542.0L839.7 546.7L840.9 545.2L842.0 553.9L843.2 557.2L844.3 571.0L845.5 585.1L846.6 589.0L847.8 590.1L848.9 583.8L850.1 576.3L851.2 558.8L852.4 541.0L853.5 535.7L854.7 531.0L855.8 556.9L857.0 577.6L858.1 591.1L859.3 586.3L860.4 562.8L861.6 538.8L862.7 516.8L863.9 532.5L865.0 518.9L866.2 505.6L867.3 511.1L868.5 500.1L869.6 489.4L870.8 488.4L871.9 497.7L873.1 500.8L874.2 513.3L875.4 520.9L876.5 521.3L877.7 526.1L878.8 531.9L880.0 533.0L881.1 533.4L882.3 543.8L883.4 537.3L884.6 551.2L885.7 542.4L886.9 558.8L888.0 570.7L889.2 592.0L890.3 601.9L891.5 605.4L892.6 612.0L893.8 617.7L894.9 609.4L896.1 607.0L897.2 592.0L898.4 578.8L899.5 590.3L900.7 612.7L901.8 625.4L903.0 626.0L904.1 633.8L905.3 643.4L906.4 649.7L907.6 644.8L908.7 644.1L909.9 638.7L911.0 641.8L912.2 652.1" stroke="#ab0a3b" stroke-width="1" stroke-opacity="0.9"/>
<path d="M761.5 546.5L762.7 571.1L763.8 566.7L765.0 568.1L766.1 566.6L767.3 564.4L768.4 561.7L769.6 549.5L770.7 541.9L771.9 540.4L773.0 533.7L774.2 526.8L775.3 518.1L776.5 528.8L777.6 527.7L778.8 523.6L779.9 521.1L781.1 509.0L782.2 512.4L783.4 517.3L784.5 507.0L785.7 508.5L786.8 506.2L788.0 500.1L789.1 501.9L790.3 503.1L791.4 497.3L792.6 492.6L793.7 499.9L794.9 501.9L796.0 504.4L797.2 507.3L798.3 512.7L799.5 524.8L800.6 534.7L801.8 537.4L802.9 553.0L804.1 553.4L805.2 543.8L806.4 520.8L807.5 533.4L808.7 526.7L809.8 526.5L811.0 528.5L812.1 534.8L813.3 542.7L814.4 553.5L815.6 552.4L816.7 558.9L817.9 544.6L819.0 525.6L820.2 511.0L821.3 501.4L822.5 495.8L823.6 493.7L824.8 506.7L825.9 515.2L827.1 518.6L828.2 531.9L829.4 531.9L830.5 537.5L831.7 541.0L832.8 547.2L834.0 551.5L835.1 560.1L836.3 567.3L837.4 565.5L838.6 565.4L839.7 558.6L840.9 565.7L842.0 560.8L843.2 557.2L844.3 559.4L845.5 569.6L846.6 570.7L847.8 574.8L848.9 567.2L850.1 565.3L851.2 556.0L852.4 552.9L853.5 550.9L854.7 558.7L855.8 577.4L857.0 587.9L858.1 596.8L859.3 585.6L860.4 559.2L861.6 521.0L862.7 495.7L863.9 507.0L865.0 505.6L866.2 498.9L867.3 513.5L868.5 509.6L869.6 504.0L870.8 501.6L871.9 515.2L873.1 520.6L874.2 520.7L875.4 519.1L876.5 515.7L877.7 518.2L878.8 520.2L880.0 528.8L881.1 529.8L882.3 535.3L883.4 540.4L884.6 550.4L885.7 563.0L886.9 572.9L888.0 585.0L889.2 599.5L890.3 600.1L891.5 613.2L892.6 615.8L893.8 616.0L894.9 613.2L896.1 609.2L897.2 598.3L898.4 583.1L899.5 590.3L900.7 601.0L901.8 613.9L903.0 614.2L904.1 620.4L905.3 637.3L906.4 643.9L907.6 645.0L908.7 648.1L909.9 652.1L911.0 656.4L912.2 659.6" stroke="#ab0a3b" stroke-width="1.2" stroke-dasharray="1 2.2" stroke-opacity="0.9"/>
</g>
<path d="M110 505.4H935" stroke="#000" stroke-width="3.4" fill="none"/>
<g fill="#ab0a3b">
<circle cx="202.9" cy="454.1" r="6"/>
<circle cx="224.5" cy="492.5" r="6"/>
<circle cx="291.3" cy="458.4" r="6"/>
<circle cx="338.2" cy="424.2" r="6"/>
<circle cx="355.8" cy="441.3" r="6"/>
<circle cx="405.5" cy="432.8" r="6"/>
<circle cx="450.2" cy="437.0" r="6"/>
<circle cx="565.9" cy="458.4" r="6"/>
<circle cx="620.1" cy="492.5" r="6"/>
<circle cx="629.3" cy="479.7" r="6"/>
<circle cx="681" cy="518.2" r="6"/>
<circle cx="728.8" cy="539.5" r="6"/>
<circle cx="758.7" cy="522.4" r="6"/>
<circle cx="819" cy="501.1" r="6"/>
<circle cx="873" cy="492.5" r="6"/>
<circle cx="909" cy="650.5" r="6"/>
</g>
<path d="M345.3 402.0L342.7 398.0L338.0 396.7L341.0 392.9L340.8 388.1L345.3 389.8L349.8 388.1L349.6 392.9L352.6 396.7L347.9 398.0ZM347.1 376.4L344.5 372.4L339.8 371.1L342.8 367.3L342.6 362.5L347.1 364.2L351.6 362.5L351.4 367.3L354.4 371.1L349.7 372.4ZM368.9 539.7L366.3 535.6L361.6 534.4L364.6 530.6L364.4 525.8L368.9 527.5L373.4 525.8L373.2 530.6L376.2 534.4L371.5 535.6ZM373.9 543.4L371.3 539.3L366.6 538.0L369.6 534.3L369.4 529.4L373.9 531.2L378.4 529.4L378.2 534.3L381.2 538.0L376.5 539.3ZM381.4 548.9L378.8 544.9L374.1 543.6L377.1 539.8L376.9 535.0L381.4 536.7L385.9 535.0L385.7 539.8L388.7 543.6L384.0 544.9ZM389.4 560.9L386.8 556.8L382.1 555.6L385.1 551.8L384.9 546.9L389.4 548.7L393.9 546.9L393.7 551.8L396.7 555.6L392.0 556.8ZM472.5 359.3L469.9 355.3L465.2 354.0L468.2 350.2L468.0 345.4L472.5 347.1L477.0 345.4L476.8 350.2L479.8 354.0L475.1 355.3ZM569.8 568.6L567.2 564.5L562.5 563.2L565.5 559.5L565.3 554.6L569.8 556.4L574.3 554.6L574.1 559.5L577.1 563.2L572.4 564.5ZM601.0 577.1L598.4 573.0L593.7 571.8L596.7 568.0L596.5 563.2L601.0 564.9L605.5 563.2L605.3 568.0L608.3 571.8L603.6 573.0ZM654.3 628.3L651.7 624.3L647.0 623.0L650.0 619.2L649.8 614.4L654.3 616.1L658.8 614.4L658.6 619.2L661.6 623.0L656.9 624.3ZM785.2 487.4L782.6 483.4L777.9 482.1L780.9 478.3L780.7 473.5L785.2 475.2L789.7 473.5L789.5 478.3L792.5 482.1L787.8 483.4ZM816.3 598.5L813.7 594.4L809.0 593.1L812.0 589.4L811.8 584.5L816.3 586.2L820.8 584.5L820.6 589.4L823.6 593.1L818.9 594.4ZM822.9 483.2L820.3 479.1L815.6 477.8L818.6 474.1L818.4 469.2L822.9 471.0L827.4 469.2L827.2 474.1L830.2 477.8L825.5 479.1ZM833.4 602.7L830.8 598.7L826.1 597.4L829.1 593.6L828.9 588.8L833.4 590.5L837.9 588.8L837.7 593.6L840.7 597.4L836.0 598.7ZM839.6 619.8L837.0 615.7L832.3 614.5L835.3 610.7L835.1 605.9L839.6 607.6L844.1 605.9L843.9 610.7L846.9 614.5L842.2 615.7ZM845.6 632.6L843.0 628.6L838.3 627.3L841.3 623.5L841.1 618.7L845.6 620.4L850.1 618.7L849.9 623.5L852.9 627.3L848.2 628.6ZM870.3 470.4L867.7 466.3L863.0 465.0L866.0 461.3L865.8 456.4L870.3 458.2L874.8 456.4L874.6 461.3L877.6 465.0L872.9 466.3ZM891.4 645.4L888.8 641.4L884.1 640.1L887.1 636.3L886.9 631.5L891.4 633.2L895.9 631.5L895.7 636.3L898.7 640.1L894.0 641.4ZM894.0 648.8L891.4 644.8L886.7 643.5L889.7 639.7L889.5 634.9L894.0 636.6L898.5 634.9L898.3 639.7L901.3 643.5L896.6 644.8ZM899.6 671.0L897.0 667.0L892.3 665.7L895.3 661.9L895.1 657.1L899.6 658.8L904.1 657.1L903.9 661.9L906.9 665.7L902.2 667.0ZM910.7 692.4L908.1 688.3L903.4 687.1L906.4 683.3L906.2 678.5L910.7 680.2L915.2 678.5L915.0 683.3L918.0 687.1L913.3 688.3ZM911.5 700.9L908.9 696.9L904.2 695.6L907.2 691.8L907.0 687.0L911.5 688.7L916.0 687.0L915.8 691.8L918.8 695.6L914.1 696.9Z" fill="#ab0a3b"/>
<path d="M345.3 378.2V388.5" stroke="#222" stroke-width="1.05"/><circle cx="345.3" cy="373.0" r="4.75" fill="#fff" stroke="#000" stroke-width="1.1"/><path d="M343.6 370.4v1.8M347.0 370.4v1.8" stroke="#222" stroke-width="0.8"/><path d="M341.8 373.7h7a3.5 3.1 0 0 1 -7 0z" fill="#fff" stroke="#222" stroke-width="0.7"/><path d="M342.3 374.9h6" stroke="#444" stroke-width="0.45"/>
<path d="M347.1 352.6V362.9" stroke="#222" stroke-width="1.05"/><circle cx="347.1" cy="347.4" r="4.75" fill="#fff" stroke="#000" stroke-width="1.1"/><path d="M345.4 344.8v1.8M348.8 344.8v1.8" stroke="#222" stroke-width="0.8"/><path d="M343.6 348.1h7a3.5 3.1 0 0 1 -7 0z" fill="#fff" stroke="#222" stroke-width="0.7"/><path d="M344.1 349.3h6" stroke="#444" stroke-width="0.45"/>
<path d="M370.2 513.9V526.2" stroke="#222" stroke-width="1.05"/><circle cx="370.2" cy="508.7" r="4.75" fill="#fff" stroke="#000" stroke-width="1.1"/><path d="M366.9 507.9h2.8M370.7 507.9h2.8M367.9 511.0h4.6" stroke="#111" stroke-width="1.15"/>
<path d="M374.5 518.6V529.9" stroke="#222" stroke-width="1.05"/><circle cx="374.5" cy="513.4" r="4.75" fill="#fff" stroke="#000" stroke-width="1.1"/><path d="M371.2 512.6h2.8M375.0 512.6h2.8M372.2 515.7h4.6" stroke="#111" stroke-width="1.15"/>
<path d="M381.9 523.6V535.4" stroke="#222" stroke-width="1.05"/><circle cx="381.9" cy="518.4" r="4.75" fill="#fff" stroke="#000" stroke-width="1.1"/><path d="M378.6 517.6h2.8M382.4 517.6h2.8M379.6 520.7h4.6" stroke="#111" stroke-width="1.15"/>
<path d="M389.7 536.2V547.4" stroke="#222" stroke-width="1.05"/><circle cx="389.7" cy="531.0" r="4.75" fill="#fff" stroke="#000" stroke-width="1.1"/><path d="M386.4 530.2h2.8M390.2 530.2h2.8M387.4 533.3h4.6" stroke="#111" stroke-width="1.15"/>
<path d="M472.5 335.5V345.8" stroke="#222" stroke-width="1.05"/><circle cx="472.5" cy="330.3" r="4.75" fill="#fff" stroke="#000" stroke-width="1.1"/><path d="M470.8 327.7v1.8M474.2 327.7v1.8" stroke="#222" stroke-width="0.8"/><path d="M469.0 331.0h7a3.5 3.1 0 0 1 -7 0z" fill="#fff" stroke="#222" stroke-width="0.7"/><path d="M469.5 332.2h6" stroke="#444" stroke-width="0.45"/>
<path d="M570.1 544.8V555.1" stroke="#222" stroke-width="1.05"/><circle cx="570.1" cy="539.6" r="4.75" fill="#fff" stroke="#000" stroke-width="1.1"/><path d="M566.8 538.8h2.8M570.6 538.8h2.8M567.8 541.9h4.6" stroke="#111" stroke-width="1.15"/>
<path d="M601.3 553.3V563.6" stroke="#222" stroke-width="1.05"/><circle cx="601.3" cy="548.1" r="4.75" fill="#fff" stroke="#000" stroke-width="1.1"/><path d="M598.0 547.3h2.8M601.8 547.3h2.8M599.0 550.4h4.6" stroke="#111" stroke-width="1.15"/>
<path d="M654.6 604.5V614.8" stroke="#222" stroke-width="1.05"/><circle cx="654.6" cy="599.3" r="4.75" fill="#fff" stroke="#000" stroke-width="1.1"/><path d="M651.3 598.5h2.8M655.1 598.5h2.8M652.3 601.6h4.6" stroke="#111" stroke-width="1.15"/>
<path d="M785.2 463.6V473.9" stroke="#222" stroke-width="1.05"/><circle cx="785.2" cy="458.4" r="4.75" fill="#fff" stroke="#000" stroke-width="1.1"/><path d="M783.5 455.8v1.8M786.9 455.8v1.8" stroke="#222" stroke-width="0.8"/><path d="M781.7 459.1h7a3.5 3.1 0 0 1 -7 0z" fill="#fff" stroke="#222" stroke-width="0.7"/><path d="M782.2 460.3h6" stroke="#444" stroke-width="0.45"/>
<path d="M816.6 574.7V585.0" stroke="#222" stroke-width="1.05"/><circle cx="816.6" cy="569.5" r="4.75" fill="#fff" stroke="#000" stroke-width="1.1"/><path d="M813.3 568.7h2.8M817.1 568.7h2.8M814.3 571.8h4.6" stroke="#111" stroke-width="1.15"/>
<path d="M822.9 459.4V469.7" stroke="#222" stroke-width="1.05"/><circle cx="822.9" cy="454.2" r="4.75" fill="#fff" stroke="#000" stroke-width="1.1"/><path d="M821.2 451.6v1.8M824.6 451.6v1.8" stroke="#222" stroke-width="0.8"/><path d="M819.4 454.9h7a3.5 3.1 0 0 1 -7 0z" fill="#fff" stroke="#222" stroke-width="0.7"/><path d="M819.9 456.1h6" stroke="#444" stroke-width="0.45"/>
<path d="M833.7 578.9V589.2" stroke="#222" stroke-width="1.05"/><circle cx="833.7" cy="573.7" r="4.75" fill="#fff" stroke="#000" stroke-width="1.1"/><path d="M830.4 572.9h2.8M834.2 572.9h2.8M831.4 576.0h4.6" stroke="#111" stroke-width="1.15"/>
<path d="M839.9 596.0V606.3" stroke="#222" stroke-width="1.05"/><circle cx="839.9" cy="590.8" r="4.75" fill="#fff" stroke="#000" stroke-width="1.1"/><path d="M836.6 590.0h2.8M840.4 590.0h2.8M837.6 593.1h4.6" stroke="#111" stroke-width="1.15"/>
<path d="M845.9 608.8V619.1" stroke="#222" stroke-width="1.05"/><circle cx="845.9" cy="603.6" r="4.75" fill="#fff" stroke="#000" stroke-width="1.1"/><path d="M842.6 602.8h2.8M846.4 602.8h2.8M843.6 605.9h4.6" stroke="#111" stroke-width="1.15"/>
<path d="M870.3 446.6V456.9" stroke="#222" stroke-width="1.05"/><circle cx="870.3" cy="441.4" r="4.75" fill="#fff" stroke="#000" stroke-width="1.1"/><path d="M868.6 438.8v1.8M872.0 438.8v1.8" stroke="#222" stroke-width="0.8"/><path d="M866.8 442.1h7a3.5 3.1 0 0 1 -7 0z" fill="#fff" stroke="#222" stroke-width="0.7"/><path d="M867.3 443.2h6" stroke="#444" stroke-width="0.45"/>
<path d="M891.7 621.6V631.9" stroke="#222" stroke-width="1.05"/><circle cx="891.7" cy="616.4" r="4.75" fill="#fff" stroke="#000" stroke-width="1.1"/><path d="M888.4 615.6h2.8M892.2 615.6h2.8M889.4 618.7h4.6" stroke="#111" stroke-width="1.15"/>
<path d="M894.3 625.0V635.3" stroke="#222" stroke-width="1.05"/><circle cx="894.3" cy="619.8" r="4.75" fill="#fff" stroke="#000" stroke-width="1.1"/><path d="M891.0 619.0h2.8M894.8 619.0h2.8M892.0 622.1h4.6" stroke="#111" stroke-width="1.15"/>
<path d="M899.9 647.2V657.5" stroke="#222" stroke-width="1.05"/><circle cx="899.9" cy="642.0" r="4.75" fill="#fff" stroke="#000" stroke-width="1.1"/><path d="M896.6 641.2h2.8M900.4 641.2h2.8M897.6 644.3h4.6" stroke="#111" stroke-width="1.15"/>
<path d="M911.0 668.6V678.9" stroke="#222" stroke-width="1.05"/><circle cx="911.0" cy="663.4" r="4.75" fill="#fff" stroke="#000" stroke-width="1.1"/><path d="M907.7 662.6h2.8M911.5 662.6h2.8M908.7 665.7h4.6" stroke="#111" stroke-width="1.15"/>
<path d="M911.8 677.1V687.4" stroke="#222" stroke-width="1.05"/><circle cx="911.8" cy="671.9" r="4.75" fill="#fff" stroke="#000" stroke-width="1.1"/><path d="M908.5 671.1h2.8M912.3 671.1h2.8M909.5 674.2h4.6" stroke="#111" stroke-width="1.15"/>
</svg>
</body>
</html>
